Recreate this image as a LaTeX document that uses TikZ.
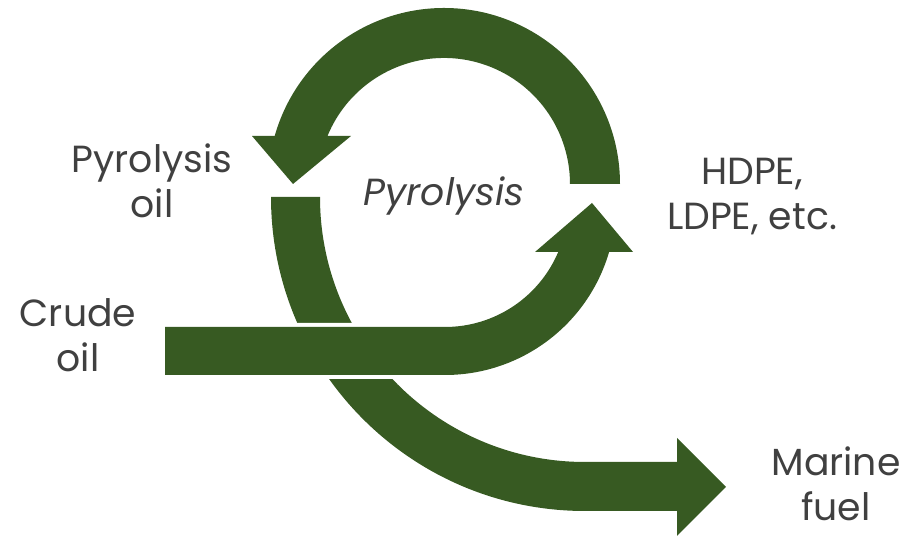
\documentclass[tikz,border=0pt]{standalone}
\usepackage{fontspec}
\setmainfont{Poppins}
\usepackage{tikz}
\definecolor{leafgreen}{RGB}{55,90,34}
\definecolor{inkgray}{RGB}{64,64,64}
\tikzset{
    x=0.02cm, y=0.02cm, % one unit is one pixel of the sketch
    band/.style={fill=leafgreen}, % the thick green arrows
    crossband/.style={fill=leafgreen, preaction={draw=white, line width=0.16cm, line join=round}}, % white edge where it crosses
    label/.style={text=inkgray, align=center, font=\fontsize{21.5}{25.6}\selectfont}, % the texts
}
\begin{document}
\begin{tikzpicture}
        \useasboundingbox (0,0) rectangle (914,536);

        % labels
        \node[label] (pyroil)   at (152,355) {Pyrolysis\\oil};
        \node[label] (crude)    at (78,201)  {Crude\\oil};
        \node[label] (plastics) at (752,339) {HDPE,\\LDPE, etc.};
        \node[label] (marine)   at (836,52)  {Marine\\fuel};
        \node[label] (pyro)     at (444,340) {\itshape Pyrolysis};

        % pyrolysis oil down to marine fuel
        \fill[band] (271,339) arc[start angle=180, end angle=270, radius=314]
                -- (677,25) -- (677,0) -- (726,49) -- (677,98) -- (677,74)
                -- (585,74) arc[start angle=270, end angle=180, radius=265] -- cycle;

        % loop over the top, back to pyrolysis oil
        \fill[band] (620,352) arc[start angle=0, end angle=164.17, radius=176]
                -- (252,400) -- (293,352) -- (351,400)
                -- (327.5,400) arc[start angle=157.61, end angle=0, radius=126] -- cycle;

        % crude oil up to HDPE, LDPE
        \path[crossband] (165,209) -- (445,209) arc[start angle=-90, end angle=-22.97, radius=123]
                -- (535,284) -- (592,333) -- (633,284)
                -- (609.1,284) arc[start angle=-16.30, end angle=-90, radius=171] -- (165,161) -- cycle;
\end{tikzpicture}
\end{document}
